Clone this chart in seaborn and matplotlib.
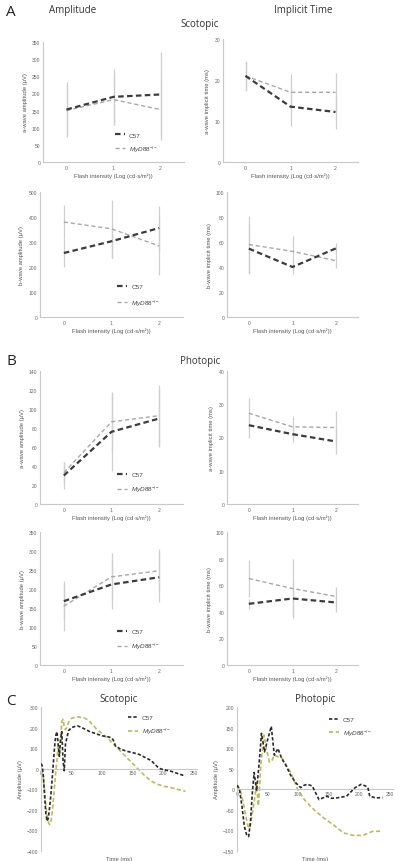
import numpy as np
import pandas as pd
import matplotlib
matplotlib.use("Agg")
import matplotlib.pyplot as plt
import seaborn as sns

# flash intensity steps (log cd.s/m2)
intensity = [0, 1, 2]

# A - scotopic
scot_a_amp_c57 = [153, 190, 197]
scot_a_amp_c57_sd = [80, 82, 125]
scot_a_amp_myd = [150, 182, 153]
scot_a_amp_myd_sd = [75, 75, 90]

scot_a_it_c57 = [21, 13.5, 12.2]
scot_a_it_c57_sd = [3.5, 4.6, 4.1]
scot_a_it_myd = [21, 17, 17]
scot_a_it_myd_sd = [3.7, 4.4, 4.7]

scot_b_amp_c57 = [256, 303, 356]
scot_b_amp_c57_sd = [56, 66, 90]
scot_b_amp_myd = [380, 353, 284]
scot_b_amp_myd_sd = [67, 116, 117]

scot_b_it_c57 = [54.7, 40, 55]
scot_b_it_c57_sd = [20, 5.3, 4.5]
scot_b_it_myd = [58, 52.5, 45]
scot_b_it_myd_sd = [22.5, 12.3, 5.5]

# B - photopic
phot_a_amp_c57 = [30, 76, 90]
phot_a_amp_c57_sd = [14, 41, 30]
phot_a_amp_myd = [33, 86.5, 93]
phot_a_amp_myd_sd = [11, 31.5, 32]

phot_a_it_c57 = [23.7, 21, 18.8]
phot_a_it_c57_sd = [3.7, 2.3, 3.8]
phot_a_it_myd = [27.3, 23.2, 23]
phot_a_it_myd_sd = [4.7, 3.3, 5]

phot_b_amp_c57 = [168, 212, 231]
phot_b_amp_c57_sd = [44, 65, 66]
phot_b_amp_myd = [155, 232, 248]
phot_b_amp_myd_sd = [65, 64, 57]

phot_b_it_c57 = [46, 50, 47]
phot_b_it_c57_sd = [4, 13, 7]
phot_b_it_myd = [65, 57.5, 51.5]
phot_b_it_myd_sd = [14, 22.5, 7.5]

# C - example waveforms
scot_c57_t = [0, 2, 4, 6, 8, 10, 12, 14, 16, 18, 20, 22, 24, 26, 28, 30, 32, 34, 36, 38, 40,
              45, 50, 55, 60, 65, 70, 80, 90, 100, 110, 115, 118, 122, 130, 140, 150, 160,
              170, 180, 190, 195, 200, 210, 220, 230, 236]
scot_c57_v = [25, 15, -40, -140, -220, -255, -240, -190, -130, -60, 20, 100, 160, 180, 120, 60,
              140, 180, 40, -10, 120, 185, 200, 205, 208, 202, 195, 180, 170, 160, 155, 150,
              140, 110, 95, 85, 78, 70, 55, 40, 10, 0, -5, -10, -20, -30, -35]
scot_myd_t = [0, 3, 6, 9, 12, 14, 16, 18, 20, 22, 24, 26, 28, 30, 32, 34, 36, 38, 40, 42, 45,
              50, 55, 60, 65, 70, 75, 80, 90, 100, 110, 120, 130, 140, 150, 160, 170, 180,
              190, 200, 210, 220, 230, 236]
scot_myd_v = [0, -20, -110, -210, -260, -272, -260, -220, -160, -90, -20, 40, 110, 60, 150,
              230, 240, 200, 190, 200, 225, 245, 250, 252, 250, 248, 240, 228, 195, 170, 145,
              115, 85, 55, 25, -5, -35, -60, -75, -85, -90, -98, -105, -110]

phot_c57_t = [0, 4, 8, 12, 16, 19, 22, 25, 28, 32, 36, 40, 45, 50, 56, 61, 67, 73, 80, 88, 96,
              104, 110, 115, 123, 134, 147, 155, 163, 179, 193, 203, 210, 214, 217, 227, 238]
phot_c57_v = [10, 0, -40, -90, -112, -115, -80, -10, 41, -4, 60, 136, 91, 120, 153, 83, 99,
              75, 58, 33, 16, 4, 10, 12, 8, -25, -17, -22, -21, -17, 4, 12, 8, 4, -17, -21, -20]
phot_myd_t = [0, 5, 10, 15, 18, 21, 25, 29, 32, 35, 39, 44, 48, 53, 57, 61, 67, 74, 80, 88, 99,
              110, 126, 142, 158, 174, 190, 206, 222, 238]
phot_myd_v = [10, 0, -30, -70, -90, -95, -60, -20, 12, -40, 60, 132, 100, 66, 70, 83, 79, 75,
              60, 41, 0, -25, -50, -70, -87, -106, -112, -112, -102, -102]

c57_label = "C57"
myd_label = r"$\mathit{MyD88}^{-/-}$"
xlab = "Flash intensity (Log (cd\u00b7s/m\u00b2))"

W, H = 400, 862
fig = plt.figure(figsize=(4.0, 8.62), dpi=100)
sns.set_style("white")
plt.rcParams["font.family"] = ["Liberation Sans", "DejaVu Sans"]
plt.rcParams["mathtext.fontset"] = "custom"
plt.rcParams["mathtext.rm"] = "Liberation Sans"
plt.rcParams["mathtext.it"] = "Liberation Sans:italic"

spine_col = "#c8c8c8"
tick_col = "#666666"
dark = "#3c3c3c"
light = "#a8a8a8"
err_col = "#cfcfcf"
olive = "#b9bb5c"


def rect(x0, y0, x1, y1):
    return [x0 / W, 1 - y1 / H, (x1 - x0) / W, (y1 - y0) / H]


def style_ax(ax):
    sns.despine(ax=ax)
    for s in ["left", "bottom"]:
        ax.spines[s].set_color(spine_col)
        ax.spines[s].set_linewidth(0.8)
    ax.tick_params(length=0, labelsize=3.6, colors=tick_col, pad=2)


def intensity_panel(r, c57, c57_sd, myd, myd_sd, yticks, ylabel, leg=None, spacing=1.0):
    ax = fig.add_axes(rect(*r))
    ax.errorbar(intensity, c57, yerr=c57_sd, fmt="none", ecolor=err_col, elinewidth=0.9, zorder=1)
    ax.errorbar(intensity, myd, yerr=myd_sd, fmt="none", ecolor=err_col, elinewidth=0.9, zorder=1)
    sns.lineplot(x=intensity, y=myd, ax=ax, color=light, lw=1.0,
                 linestyle=(0, (3, 2)), label=myd_label, zorder=2)
    sns.lineplot(x=intensity, y=c57, ax=ax, color=dark, lw=1.6,
                 linestyle=(0, (2.5, 1.5)), label=c57_label, zorder=3)
    ax.set_xlim(-0.5, 2.5)
    ax.set_ylim(yticks[0], yticks[-1])
    ax.set_xticks(intensity)
    ax.set_yticks(yticks)
    style_ax(ax)
    ax.set_xlabel(xlab, fontsize=4.2, color="#555555", labelpad=2)
    ax.set_ylabel(ylabel, fontsize=4.2, color="#555555", labelpad=3)
    if leg is None:
        ax.get_legend().remove()
    else:
        h, l = ax.get_legend_handles_labels()
        ax.legend(h[::-1], l[::-1], loc="center left", bbox_to_anchor=leg, frameon=False,
                  fontsize=4.6, handlelength=1.6, handletextpad=0.6, labelspacing=spacing,
                  labelcolor="#444444")
    return ax


def wave_panel(r, c57_t, c57_v, myd_t, myd_v, yticks, leg, title):
    ax = fig.add_axes(rect(*r))
    sns.lineplot(x=c57_t, y=c57_v, ax=ax, color="#2a2a2a", lw=1.2,
                 linestyle=(0, (2, 1.2)), label=c57_label, zorder=3)
    sns.lineplot(x=myd_t, y=myd_v, ax=ax, color=olive, lw=1.2,
                 linestyle=(0, (2.5, 1.5)), label=myd_label, zorder=2)
    ax.set_xlim(0, 255)
    ax.set_ylim(yticks[0], yticks[-1])
    ax.set_xticks([0, 50, 100, 150, 200, 250])
    ax.set_yticks(yticks)
    style_ax(ax)
    ax.spines["bottom"].set_position(("data", 0))
    ax.tick_params(axis="x", pad=1)
    ax.set_ylabel("Amplitude (\u00b5V)", fontsize=4.2, color="#555555", labelpad=3)
    ax.text(0.5, -0.035, "Time (ms)", transform=ax.transAxes, ha="center", va="top",
            fontsize=4.2, color="#555555")
    ax.legend(loc="center left", bbox_to_anchor=leg, frameon=False, fontsize=4.6,
              handlelength=1.6, handletextpad=0.6, labelspacing=0.9, labelcolor="#444444")
    ax.set_title(title, fontsize=7, color="#333333", family="Open Sans", pad=4)
    return ax


intensity_panel((43, 43, 184, 163), scot_a_amp_c57, scot_a_amp_c57_sd, scot_a_amp_myd,
                scot_a_amp_myd_sd, list(range(0, 351, 50)), "a-wave amplitude (\u00b5V)",
                leg=(0.47, 0.16), spacing=0.9)
intensity_panel((223, 40, 358, 163), scot_a_it_c57, scot_a_it_c57_sd, scot_a_it_myd,
                scot_a_it_myd_sd, [0, 10, 20, 30], "a-wave implicit time (ms)")
intensity_panel((40, 193, 183, 318), scot_b_amp_c57, scot_b_amp_c57_sd, scot_b_amp_myd,
                scot_b_amp_myd_sd, list(range(0, 501, 100)), "b-wave amplitude (\u00b5V)",
                leg=(0.5, 0.17), spacing=1.3)
intensity_panel((227, 193, 358, 318), scot_b_it_c57, scot_b_it_c57_sd, scot_b_it_myd,
                scot_b_it_myd_sd, list(range(0, 101, 20)), "b-wave implicit time (ms)")
intensity_panel((40, 372, 183, 505), phot_a_amp_c57, phot_a_amp_c57_sd, phot_a_amp_myd,
                phot_a_amp_myd_sd, list(range(0, 141, 20)), "a-wave amplitude (\u00b5V)",
                leg=(0.5, 0.16), spacing=1.1)
intensity_panel((227, 372, 358, 505), phot_a_it_c57, phot_a_it_c57_sd, phot_a_it_myd,
                phot_a_it_myd_sd, [0, 10, 20, 30, 40], "a-wave implicit time (ms)")
intensity_panel((40, 533, 183, 666), phot_b_amp_c57, phot_b_amp_c57_sd, phot_b_amp_myd,
                phot_b_amp_myd_sd, list(range(0, 351, 50)), "b-wave amplitude (\u00b5V)",
                leg=(0.5, 0.19), spacing=1.1)
intensity_panel((227, 533, 358, 666), phot_b_it_c57, phot_b_it_c57_sd, phot_b_it_myd,
                phot_b_it_myd_sd, list(range(0, 101, 20)), "b-wave implicit time (ms)")

wave_panel((41, 708, 197, 852), scot_c57_t, scot_c57_v, scot_myd_t, scot_myd_v,
           list(range(-400, 301, 100)), (0.52, 0.87), "Scotopic")
wave_panel((237, 708, 393, 852), phot_c57_t, phot_c57_v, phot_myd_t, phot_myd_v,
           list(range(-150, 201, 50)), (0.55, 0.86), "Photopic")

# panel letters and headings
for letter, y in [("A", 12), ("B", 362), ("C", 702)]:
    fig.text(6 / W, 1 - y / H, letter, fontsize=11, color="#222222", va="center",
             family="Open Sans")
fig.text(73 / W, 1 - 10 / H, "Amplitude", fontsize=7, color="#333333", ha="center",
         va="center", family="Open Sans")
fig.text(303 / W, 1 - 10 / H, "Implicit Time", fontsize=7, color="#333333", ha="center",
         va="center", family="Open Sans")
fig.text(200 / W, 1 - 25 / H, "Scotopic", fontsize=7, color="#333333", ha="center",
         va="center", family="Open Sans")
fig.text(200 / W, 1 - 362 / H, "Photopic", fontsize=7, color="#333333", ha="center",
         va="center", family="Open Sans")

fig.savefig("out.png", dpi=100)
